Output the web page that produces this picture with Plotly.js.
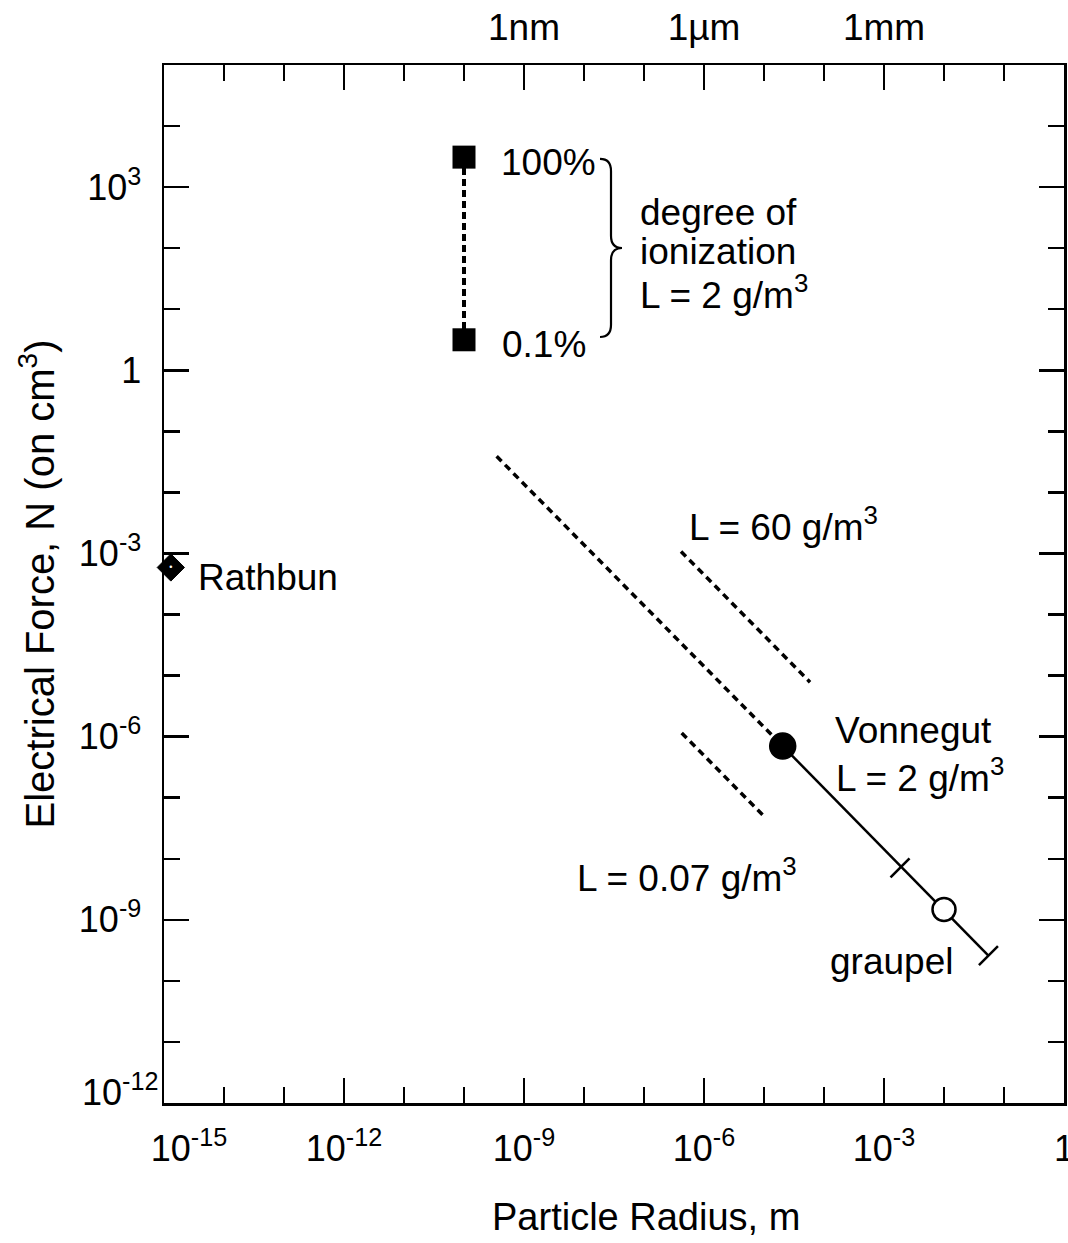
<!DOCTYPE html>
<html>
<head>
<meta charset="utf-8">
<script src="https://cdn.plot.ly/plotly-3.0.1.min.js"></script>
<style>
  html, body { margin: 0; padding: 0; background: #ffffff; }
  #chart { width: 1068px; height: 1243px; }
</style>
</head>
<body>
<div id="chart"></div>
<script>
// ---------------- data ----------------
const xTickVals = [1e-15, 1e-12, 1e-9, 1e-6, 1e-3, 1];
const xTickText = ['&nbsp;&nbsp;&nbsp;&nbsp;&nbsp;10<sup>-15</sup>', '10<sup>-12</sup>', '10<sup>-9</sup>', '10<sup>-6</sup>', '10<sup>-3</sup>', '1'];
const xMinorVals = [1e-14, 1e-13, 1e-11, 1e-10, 1e-8, 1e-7, 1e-5, 1e-4, 1e-2, 1e-1];
const yTickVals = [1e-12, 1e-9, 1e-6, 1e-3, 1, 1e3];
// the lowest label (10^-12) is drawn as a corner annotation, lifted off the axis as in the reference
const yTickText = ['', '10<sup>-9</sup>', '10<sup>-6</sup>', '10<sup>-3</sup>', '1', '10<sup>3</sup>'];
const yCornerLabel = '10<sup>-12</sup>';
const yMinorVals = [1e-11, 1e-10, 1e-8, 1e-7, 1e-5, 1e-4, 1e-2, 1e-1, 1e1, 1e2, 1e4];
const topTickVals = [1e-9, 1e-6, 1e-3];
const topTickText = ['1nm', '1\u00b5m', '1mm'];

// degree of ionization (L = 2 g/m3): 100% and 0.1%
const ionRadius = [1e-10, 1e-10];
const ionForce = [3.1e3, 3.16];
const ionLabels = ['100%', '0.1%'];

// Rathbun
const rathbunRadius = [1.3e-15];
const rathbunForce = [5.9e-4];

// L = 2 g/m3 dotted line ending at the Vonnegut point
const l2Radius = [3.5e-10, 2.05e-5];
const l2Force = [3.9e-2, 7.0e-7];

// Vonnegut point
const vonnegutRadius = [2.05e-5];
const vonnegutForce = [7.0e-7];

// solid continuation of L = 2 line
const solidRadius = [2.05e-5, 5.5e-2];
const solidForce = [7.0e-7, 2.6e-10];

// graupel size range end marks
const graupelRangeRadius = [1.85e-3, 5.5e-2];
const graupelRangeForce = [7.1e-9, 2.6e-10];

// graupel point
const graupelRadius = [1e-2];
const graupelForce = [1.48e-9];

// L = 60 g/m3 dotted line
const l60Radius = [4.14e-7, 5.85e-5];
const l60Force = [1.08e-3, 7.8e-6];

// L = 0.07 g/m3 dotted line
const l007Radius = [4.25e-7, 1.08e-5];
const l007Force = [1.15e-6, 4.6e-8];

// ---------------- layout helpers ----------------
const FONT = 'Liberation Sans, Arial, Helvetica, sans-serif';
const XR = [-15, 0];
const YR = [-12, 5];
const px = l => (l - XR[0]) / (XR[1] - XR[0]);   // log x -> paper
const py = l => (l - YR[0]) / (YR[1] - YR[0]);   // log y -> paper

function brace(tipX, stemX, pointX, yTop, yBot, curl) {
  const yMid = (yTop + yBot) / 2;
  const P = (a, b) => px(a).toFixed(5) + ',' + py(b).toFixed(5);
  return 'M' + P(tipX, yTop) +
    ' Q' + P(stemX, yTop) + ' ' + P(stemX, yTop - curl) +
    ' L' + P(stemX, yMid + curl) +
    ' Q' + P(stemX, yMid) + ' ' + P(pointX, yMid) +
    ' Q' + P(stemX, yMid) + ' ' + P(stemX, yMid - curl) +
    ' L' + P(stemX, yBot + curl) +
    ' Q' + P(stemX, yBot) + ' ' + P(tipX, yBot);
}

const dotted = { color: 'black', width: 3.5, dash: '7px,5px' };

const traces = [
  { x: l2Radius, y: l2Force, mode: 'lines', line: dotted, hoverinfo: 'skip' },
  { x: l60Radius, y: l60Force, mode: 'lines', line: dotted, hoverinfo: 'skip' },
  { x: l007Radius, y: l007Force, mode: 'lines', line: dotted, hoverinfo: 'skip' },
  { x: solidRadius, y: solidForce, mode: 'lines', line: { color: 'black', width: 2.5 }, hoverinfo: 'skip' },
  { x: graupelRangeRadius, y: graupelRangeForce, mode: 'markers',
    marker: { symbol: 'line-ne', size: 19, color: 'black', line: { color: 'black', width: 2.5 } } },
  { x: ionRadius, y: ionForce, mode: 'lines+markers',
    line: { color: 'black', width: 4, dash: '7px,4px' },
    marker: { symbol: 'square', size: 23, color: 'black', line: { width: 0 } } },
  { x: vonnegutRadius, y: vonnegutForce, mode: 'markers',
    marker: { symbol: 'circle', size: 26, color: 'black', line: { color: 'black', width: 1.5 } } },
  { x: graupelRadius, y: graupelForce, mode: 'markers',
    marker: { symbol: 'circle', size: 23, color: 'white', line: { color: 'black', width: 2.5 } } },
  { x: rathbunRadius, y: rathbunForce, mode: 'markers',
    marker: { symbol: 'diamond', size: 21, color: 'rgb(0,0,0)', line: { color: 'rgb(0,0,0)', width: 1 } } },
  { x: rathbunRadius, y: rathbunForce, mode: 'text', text: ['\u2022'],
    textposition: 'middle center', textfont: { family: FONT, size: 9, color: 'white' }, hoverinfo: 'skip' },
  // carrier for the top (unit) axis
  { x: topTickVals, y: [1, 1, 1], xaxis: 'x2', mode: 'markers', marker: { opacity: 0 }, hoverinfo: 'skip' }
];
traces.forEach(t => { t.showlegend = false; t.cliponaxis = false; });

function label(text, lx, ly) {
  return { text: text, x: lx, y: ly, xref: 'x', yref: 'y', showarrow: false,
    xanchor: 'left', yanchor: 'middle', font: { family: FONT, size: 37, color: 'black' } };
}

const annotations = [
  label(ionLabels[0], -9.42, 3.41),
  label(ionLabels[1], -9.4, 0.43),
  label('degree of', -7.1, 2.58),
  label('ionization', -7.1, 1.95),
  label('L = 2 g/m<sup>3</sup>', -7.1, 1.27),
  label('Rathbun', -14.47, -3.4),
  label('L = 60 g/m<sup>3</sup>', -6.283, -2.53),
  label('Vonnegut', -3.85, -5.9),
  label('L = 2 g/m<sup>3</sup>', -3.833, -6.64),
  label('L = 0.07 g/m<sup>3</sup>', -8.15, -8.28),
  label('graupel', -3.933, -9.68),
  // y corner tick label
  { text: yCornerLabel, xref: 'paper', yref: 'paper', x: -0.005, y: 0.013,
    xanchor: 'right', yanchor: 'middle', showarrow: false,
    font: { family: FONT, size: 36, color: 'black' } },
  // x-axis title (placed right of centre, as in the reference)
  { text: 'Particle Radius, m', xref: 'paper', yref: 'paper', x: 0.535, y: -0.11,
    xanchor: 'center', yanchor: 'middle', showarrow: false,
    font: { family: FONT, size: 38, color: 'black' } }
];

const axisCommon = {
  type: 'log', showgrid: false, zeroline: false, showline: true,
  linecolor: 'black', linewidth: 2.5, mirror: 'ticks',
  ticks: 'inside', ticklen: 25, tickwidth: 2.5, tickcolor: 'black',
  tickmode: 'array', ticklabeloverflow: 'allow',
  tickfont: { family: FONT, size: 36, color: 'black' }
};

const layout = {
  width: 1068, height: 1243,
  margin: { l: 164, r: 4, t: 65, b: 140 },
  paper_bgcolor: 'white', plot_bgcolor: 'white',
  font: { family: FONT, color: 'black' },
  showlegend: false,
  xaxis: Object.assign({}, axisCommon, {
    range: XR, tickvals: xTickVals, ticktext: xTickText, ticklabelstandoff: 12,
    minor: { tickmode: 'array', tickvals: xMinorVals, ticks: 'inside', ticklen: 16, tickwidth: 2.5, tickcolor: 'black', showgrid: false }
  }),
  xaxis2: {
    type: 'log', range: XR, overlaying: 'x', side: 'top', anchor: 'y',
    showgrid: false, zeroline: false, showline: false, ticks: '',
    tickmode: 'array', tickvals: topTickVals, ticktext: topTickText, ticklabelstandoff: 17,
    ticklabeloverflow: 'allow',
    tickfont: { family: FONT, size: 37, color: 'black' }
  },
  yaxis: Object.assign({}, axisCommon, {
    range: YR, tickvals: yTickVals, ticktext: yTickText, ticklabelstandoff: 13,
    minor: { tickmode: 'array', tickvals: yMinorVals, ticks: 'inside', ticklen: 16, tickwidth: 2.5, tickcolor: 'black', showgrid: false },
    title: { text: 'Electrical Force, N (on cm<sup>3</sup>)', font: { family: FONT, size: 40, color: 'black' }, standoff: 12 }
  }),
  annotations: annotations,
  shapes: [
    { type: 'path', xref: 'paper', yref: 'paper',
      path: brace(-7.733, -7.55, -7.367, 3.461, 0.545, 0.2),
      line: { color: 'black', width: 2.2 }, fillcolor: 'rgba(0,0,0,0)' }
  ]
};

Plotly.newPlot('chart', traces, layout, { staticPlot: true, displayModeBar: false });
</script>
</body>
</html>
